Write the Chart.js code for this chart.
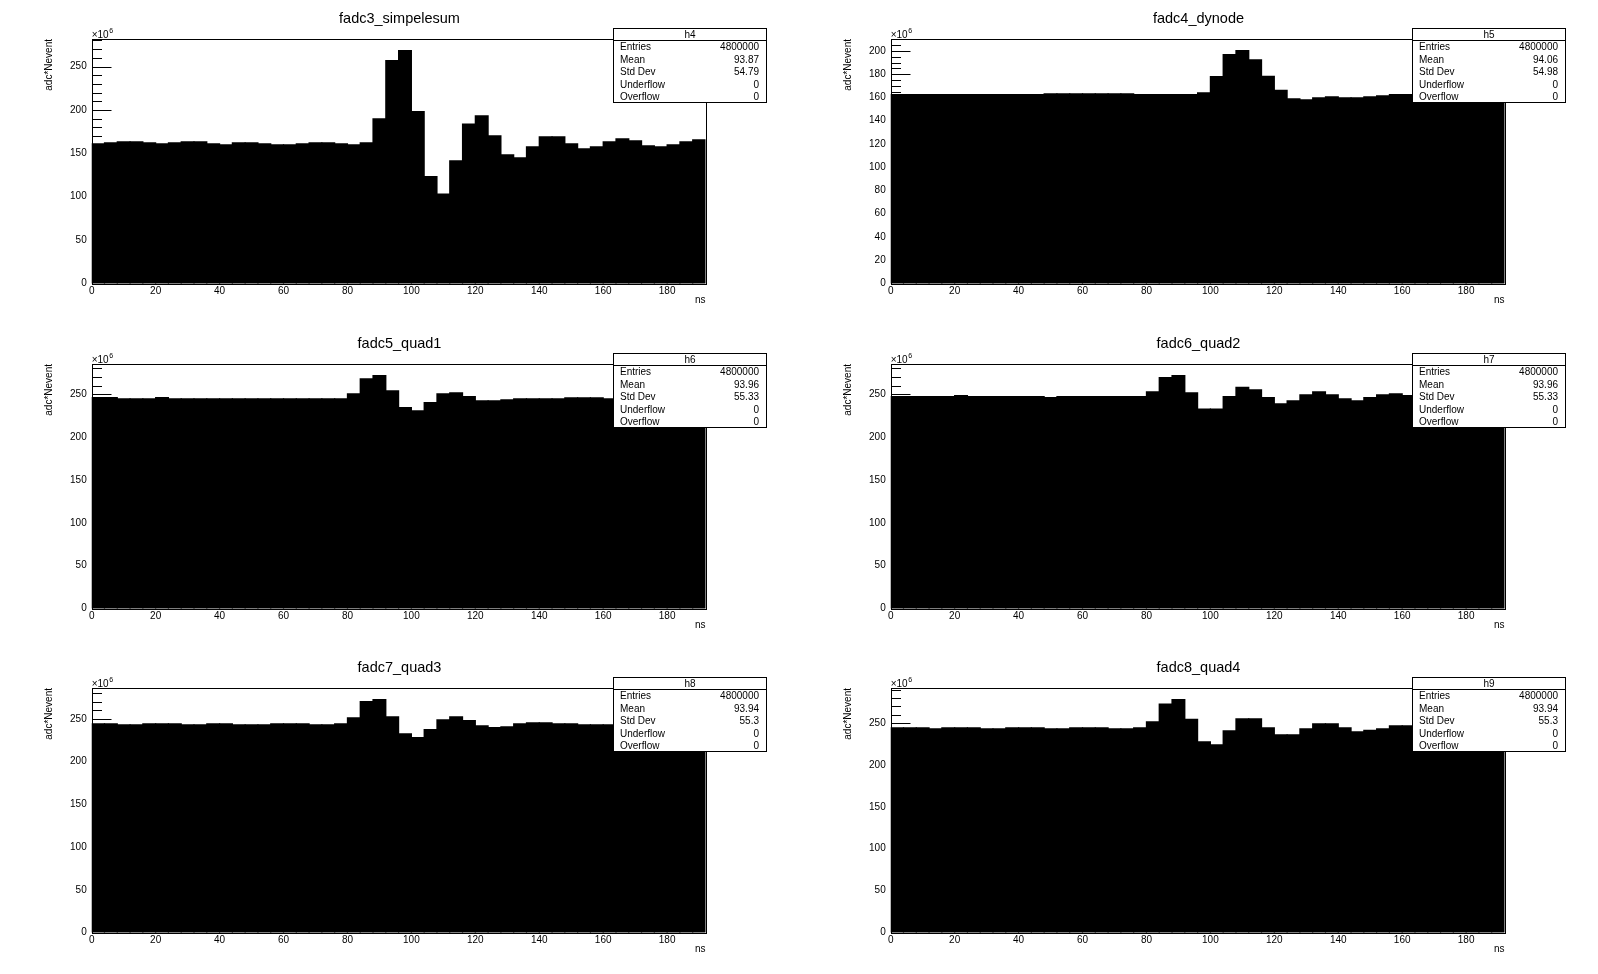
<!DOCTYPE html>
<html>
<head>
<meta charset="utf-8">
<title>fadc histograms</title>
<script src="https://cdn.jsdelivr.net/npm/chart.js@4.4.1/dist/chart.umd.min.js"></script>
<style>
  body { margin: 0; background: #fff; }
  #canvasRoot { position: relative; width: 1598px; height: 974px; overflow: hidden; }
  #canvasRoot canvas { position: absolute; }
</style>
</head>
<body>
<div id="canvasRoot"></div>
<script>
// 48 bins of 4 ns, 0..192 ns
const binWidth = 4
const nBins = 48
const binCenters = Array.from({ length: nBins }, (_, i) => i * binWidth + binWidth / 2)
const xTicks = [0, 20, 40, 60, 80, 100, 120, 140, 160, 180]

const padTitles = ["fadc3_simpelesum", "fadc4_dynode", "fadc5_quad1", "fadc6_quad2", "fadc7_quad3", "fadc8_quad4"]
const histNames = ["h4", "h5", "h6", "h7", "h8", "h9"]
const entries = ["4800000", "4800000", "4800000", "4800000", "4800000", "4800000"]
const means = ["93.87", "94.06", "93.96", "93.96", "93.94", "93.94"]
const stdDevs = ["54.79", "54.98", "55.33", "55.33", "55.3", "55.3"]
const underflows = ["0", "0", "0", "0", "0", "0"]
const overflows = ["0", "0", "0", "0", "0", "0"]
const yMajor = [50, 20, 50, 50, 50, 50]
const yMinor = [10, 5, 10, 10, 10, 10]

// values in units of 10^6
const simpelesum = [
  160.9, 162.0, 163.2, 163.2, 162.0, 160.9, 162.0, 163.2, 163.2, 160.9, 159.7, 162.0,
  162.0, 160.9, 159.7, 159.7, 160.9, 162.0, 162.0, 160.9, 159.7, 162.0, 189.8, 256.8,
  268.3, 198.2, 123.1, 103.1, 141.3, 183.6, 193.2, 170.1, 148.2, 144.7, 157.4, 169.0,
  169.0, 160.9, 155.1, 157.4, 163.2, 166.7, 164.4, 158.6, 157.4, 159.7, 163.2, 165.5
]
const dynode = [
  162.4, 162.4, 162.4, 162.4, 162.4, 162.4, 162.4, 162.4, 162.4, 162.4, 162.4, 162.4,
  163.2, 163.2, 163.2, 163.2, 163.2, 163.2, 163.2, 162.4, 162.4, 162.4, 162.4, 162.4,
  164.1, 178.0, 196.8, 200.3, 192.4, 178.2, 166.2, 158.8, 157.9, 159.7, 160.6, 159.7,
  159.7, 160.6, 161.5, 162.4, 162.4, 162.8, 163.0, 163.0, 162.8, 163.0, 163.2, 163.0
]
const quad1 = [
  246.1, 246.1, 244.5, 244.5, 244.5, 246.1, 244.5, 244.5, 244.5, 244.5, 244.5, 244.5,
  244.5, 244.5, 244.5, 244.5, 244.5, 244.5, 244.5, 244.5, 250.4, 268.0, 271.6, 253.9,
  234.3, 230.4, 240.2, 250.4, 251.6, 247.3, 242.2, 242.2, 243.3, 244.5, 244.5, 244.5,
  244.5, 245.7, 245.7, 245.7, 244.5, 244.5, 244.5, 244.5, 244.5, 244.5, 244.5, 244.5
]
const quad2 = [
  247.3, 247.3, 247.3, 247.3, 247.3, 248.4, 247.3, 247.3, 247.3, 247.3, 247.3, 247.3,
  246.1, 247.3, 247.3, 247.3, 247.3, 247.3, 247.3, 247.3, 252.7, 269.2, 271.6, 251.6,
  232.7, 232.7, 247.3, 257.8, 255.1, 246.1, 238.6, 242.2, 249.2, 252.7, 249.2, 244.5,
  242.2, 246.1, 249.2, 250.4, 248.4, 249.0, 250.0, 249.0, 248.0, 249.0, 250.0, 249.0
]
const quad3 = [
  244.1, 244.1, 242.9, 242.9, 244.1, 244.1, 244.1, 242.9, 242.9, 244.1, 244.1, 242.9,
  242.9, 242.9, 244.1, 244.1, 244.1, 242.9, 242.9, 244.1, 251.2, 270.0, 272.4, 252.4,
  232.4, 228.0, 237.5, 248.8, 252.4, 248.0, 241.8, 239.8, 240.6, 244.1, 245.3, 245.3,
  244.1, 244.1, 242.9, 242.9, 242.9, 242.9, 242.9, 242.9, 242.9, 242.9, 242.9, 242.9
]
const quad4 = [
  244.4, 244.4, 244.4, 243.2, 244.4, 244.4, 244.4, 243.2, 243.2, 244.4, 244.4, 244.4,
  243.2, 243.2, 244.4, 244.4, 244.4, 243.2, 243.2, 244.4, 251.6, 272.8, 278.0, 254.4,
  227.6, 224.0, 240.8, 255.2, 255.2, 244.4, 236.0, 236.0, 243.2, 249.2, 249.2, 244.4,
  239.6, 241.2, 243.2, 246.8, 246.8, 246.0, 246.0, 246.0, 246.0, 246.0, 246.0, 246.0
]
const seriesList = [simpelesum, dynode, quad1, quad2, quad3, quad4]

const FONT = "'Liberation Sans', Arial, Helvetica, sans-serif"
const PAD_W = 799
const PAD_H = 325
Chart.defaults.font.family = FONT
Chart.defaults.color = "#000"

// ROOT-like decorations: frame, inside ticks, title, stats box
const rootPad = {
  id: "rootPad",
  afterDraw(chart, args, opts) {
    const ctx = chart.ctx
    const area = chart.chartArea
    const ys = chart.scales.y
    const L = Math.round(area.left) + 0.5
    const R = Math.round(area.right) + 0.5
    const T = Math.round(area.top) + 0.5
    const B = Math.round(area.bottom) + 0.5

    ctx.save()
    ctx.strokeStyle = "#000"
    ctx.fillStyle = "#000"
    ctx.lineWidth = 1

    // y ticks, drawn into the frame
    for (let k = 0; k * opts.minor <= ys.max; k++) {
      const v = k * opts.minor
      const len = v % opts.major === 0 ? 19 : 9.5
      const py = Math.round(ys.getPixelForValue(v)) + 0.5
      ctx.beginPath()
      ctx.moveTo(L, py)
      ctx.lineTo(L + len, py)
      ctx.stroke()
    }

    ctx.strokeRect(L, T, R - L, B - T)

    // title
    ctx.font = "14.5px " + FONT
    ctx.textAlign = "center"
    ctx.textBaseline = "middle"
    ctx.fillText(opts.title, chart.width / 2, 18.5)

    // x10^6
    ctx.textAlign = "left"
    ctx.textBaseline = "alphabetic"
    ctx.font = "10px " + FONT
    ctx.fillText("\u00d710", area.left, area.top - 1.5)
    const w = ctx.measureText("\u00d710").width
    ctx.font = "7px " + FONT
    ctx.fillText("6", area.left + w + 0.5, area.top - 6)

    // axis titles
    ctx.font = "10px " + FONT
    ctx.textAlign = "right"
    ctx.textBaseline = "middle"
    ctx.fillText("ns", area.right, 300)
    ctx.save()
    ctx.translate(49, area.top)
    ctx.rotate(-Math.PI / 2)
    ctx.fillText("adc*Nevent", 0, 0)
    ctx.restore()

    // stats box
    const bx1 = 613.5, bx2 = 766.5, by1 = 28.5, by2 = 102.5, hy = 40.5
    ctx.fillStyle = "#fff"
    ctx.fillRect(bx1, by1, bx2 - bx1, by2 - by1)
    ctx.strokeRect(bx1, by1, bx2 - bx1, by2 - by1)
    ctx.beginPath()
    ctx.moveTo(bx1, hy)
    ctx.lineTo(bx2, hy)
    ctx.stroke()
    ctx.fillStyle = "#000"
    ctx.textAlign = "center"
    ctx.fillText(opts.name, (bx1 + bx2) / 2, (by1 + hy) / 2 + 1)
    const rowH = (by2 - hy) / opts.rows.length
    opts.rows.forEach((row, i) => {
      const cy = hy + rowH * (i + 0.5) + 1
      ctx.textAlign = "left"
      ctx.fillText(row[0], 620, cy)
      ctx.textAlign = "right"
      ctx.fillText(row[1], 759, cy)
    })

    ctx.restore()
  }
}

function criarPad(i) {
  const col = i % 2
  const row = Math.floor(i / 2)
  const canvas = document.createElement("canvas")
  canvas.width = PAD_W
  canvas.height = PAD_H
  canvas.style.left = (col * PAD_W) + "px"
  canvas.style.top = Math.round(row * 974 / 3) + "px"
  document.getElementById("canvasRoot").appendChild(canvas)

  const valores = seriesList[i]
  const yMax = Math.max(...valores) * 1.05

  new Chart(canvas, {
    type: "bar",
    data: {
      datasets: [{
        data: binCenters.map((x, k) => ({ x, y: valores[k] })),
        backgroundColor: "#000",
        borderWidth: 0,
        barPercentage: 1,
        categoryPercentage: 1,
        inflateAmount: 0.6
      }]
    },
    options: {
      responsive: false,
      animation: false,
      events: [],
      layout: { padding: { left: 0, top: 39, right: 93.5, bottom: 0 } },
      plugins: {
        legend: { display: false },
        tooltip: { enabled: false },
        rootPad: {
          title: padTitles[i],
          name: histNames[i],
          major: yMajor[i],
          minor: yMinor[i],
          rows: [
            ["Entries", entries[i]],
            ["Mean", means[i]],
            ["Std Dev", stdDevs[i]],
            ["Underflow", underflows[i]],
            ["Overflow", overflows[i]]
          ]
        }
      },
      scales: {
        x: {
          type: "linear",
          min: 0,
          max: nBins * binWidth,
          offset: false,
          grid: { display: false, drawTicks: false },
          border: { display: false },
          afterBuildTicks: s => { s.ticks = xTicks.map(v => ({ value: v })) },
          afterFit: s => { s.height = 41.5 },
          ticks: { autoSkip: false, maxRotation: 0, padding: 2, font: { size: 10 }, color: "#000" }
        },
        y: {
          min: 0,
          max: yMax,
          grid: { display: false, drawTicks: false },
          border: { display: false },
          afterFit: s => { s.width = 91.7 },
          ticks: { stepSize: yMajor[i], includeBounds: false, padding: 5, font: { size: 10 }, color: "#000" }
        }
      }
    },
    plugins: [rootPad]
  })
}

for (let i = 0; i < 6; i++) criarPad(i)
</script>
</body>
</html>
